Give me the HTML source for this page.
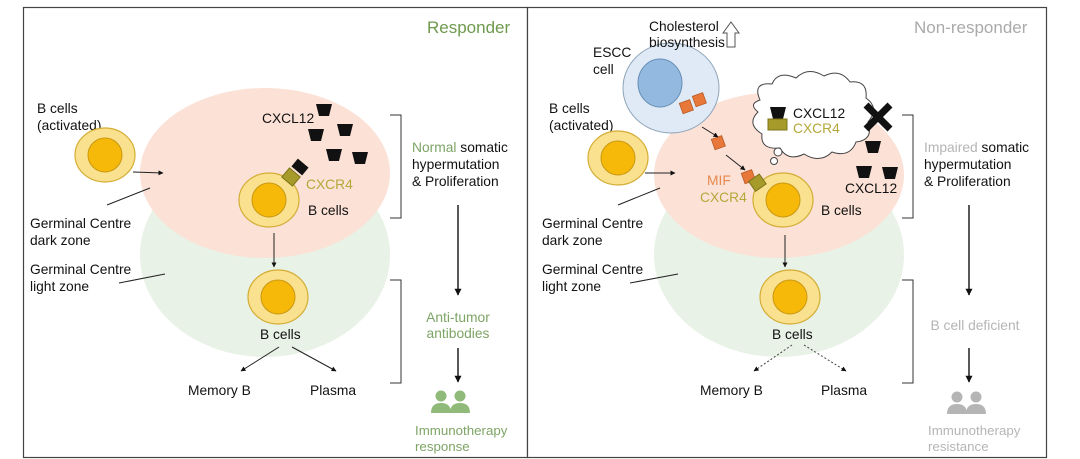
<!DOCTYPE html>
<html><head><meta charset="utf-8"><style>
html,body{margin:0;padding:0;background:#fff;}
svg{display:block;font-family:"Liberation Sans",sans-serif;}
</style></head><body>
<svg width="1080" height="459" viewBox="0 0 1080 459" xmlns="http://www.w3.org/2000/svg">
<defs>
<marker id="a" viewBox="0 0 10 10" refX="9" refY="5" markerWidth="5" markerHeight="5" orient="auto"><path d="M0,0L10,5L0,10z" fill="#111"/></marker>
<g id="cell"><ellipse rx="30" ry="27" fill="#f9e18f" stroke="#d4ad35" stroke-width="1.2"/><circle r="17" fill="#f6b90a" stroke="#c99812" stroke-width="1"/></g>
<path id="tz" d="M-8,-6L8,-6L5,6L-5,6z" fill="#111"/>
<g id="ppl"><circle cx="-9" cy="-8" r="5.5"/><circle cx="10" cy="-8" r="5.5"/><path d="M-19,9Q-19,-1 -9,-1Q1,-1 1,9z"/><path d="M0,9Q0,-1 10,-1Q20,-1 20,9z"/></g>
</defs>
<rect x="23.5" y="7.5" width="504" height="450" fill="#fff" stroke="#444" stroke-width="1.2"/>
<rect x="527.5" y="7.5" width="519" height="450" fill="#fff" stroke="#444" stroke-width="1.2"/>

<!-- LEFT -->
<text x="427" y="33" font-size="17" fill="#6e9a4e">Responder</text>
<ellipse cx="265" cy="255" rx="125" ry="102" fill="#e9f2e6"/>
<ellipse cx="265" cy="173" rx="125" ry="85" fill="#fbe1d6"/>
<g font-size="13.8" fill="#111">
<text x="37" y="113">B cells</text><text x="37" y="130">(activated)</text>
<text x="30" y="228">Germinal Centre</text><text x="30" y="245">dark zone</text>
<text x="30" y="274">Germinal Centre</text><text x="30" y="291">light zone</text>
<text x="262" y="123">CXCL12</text>
<text x="308" y="215">B cells</text>
<text x="260" y="339">B cells</text>
<text x="188" y="395">Memory B</text><text x="310" y="395">Plasma</text>
<text x="412" y="152"><tspan fill="#7ea466">Normal</tspan> somatic</text>
<text x="412" y="169">hypermutation</text><text x="412" y="186">&amp; Proliferation</text>
</g>
<use href="#cell" x="105" y="155"/>
<line x1="133" y1="172" x2="163" y2="173" stroke="#222" marker-end="url(#a)"/>
<line x1="107" y1="205" x2="150" y2="188" stroke="#222"/>
<line x1="119" y1="283" x2="165" y2="274" stroke="#222"/>
<use href="#tz" x="324" y="110"/><use href="#tz" x="316" y="135"/><use href="#tz" x="345" y="130"/><use href="#tz" x="334" y="155"/><use href="#tz" x="360" y="158"/>
<use href="#cell" x="269" y="200"/>
<rect x="284" y="171" width="14" height="12" fill="#a59a2a" stroke="#7d7418" transform="rotate(40 291 177)"/>
<rect x="293" y="162" width="14" height="10" fill="#111" transform="rotate(40 300 167)"/>
<text x="306" y="189" font-size="13.8" fill="#b5a83a">CXCR4</text>
<line x1="274" y1="233" x2="274" y2="267" stroke="#222" marker-end="url(#a)"/>
<use href="#cell" x="278" y="297"/>
<line x1="279" y1="347" x2="241" y2="371" stroke="#222" marker-end="url(#a)"/>
<line x1="292" y1="347" x2="336" y2="371" stroke="#222" marker-end="url(#a)"/>
<path d="M390,115H401V218H390M390,280H401V383H390" fill="none" stroke="#333"/>
<line x1="458" y1="205" x2="458" y2="295" stroke="#111" stroke-width="1.4" marker-end="url(#a)"/>
<g font-size="13.8" fill="#7ea466" text-anchor="middle"><text x="458" y="322">Anti-tumor</text><text x="458" y="338">antibodies</text></g>
<line x1="458" y1="348" x2="458" y2="382" stroke="#111" stroke-width="1.4" marker-end="url(#a)"/>
<use href="#ppl" x="450" y="404" fill="#8fba7a"/>
<g font-size="13.3" fill="#7ea466"><text x="415" y="435">Immunotherapy</text><text x="415" y="451">response</text></g>

<!-- RIGHT -->
<text x="914" y="33" font-size="17" fill="#aaa">Non-responder</text>
<ellipse cx="779" cy="255" rx="125" ry="102" fill="#e9f2e6"/>
<ellipse cx="779" cy="175" rx="125" ry="83" fill="#fbe1d6"/>
<ellipse cx="671" cy="88" rx="48" ry="45" fill="#dfeaf6" stroke="#8da3b8"/>
<ellipse cx="660" cy="83" rx="22" ry="24" fill="#93b9e0" stroke="#6a8fb5"/>
<g font-size="13.8" fill="#111">
<text x="649" y="31">Cholesterol</text><text x="649" y="47">biosynthesis</text>
<text x="593" y="57">ESCC</text><text x="593" y="74">cell</text>
<text x="549" y="113">B cells</text><text x="549" y="130">(activated)</text>
<text x="542" y="228">Germinal Centre</text><text x="542" y="245">dark zone</text>
<text x="542" y="274">Germinal Centre</text><text x="542" y="291">light zone</text>
<text x="821" y="215">B cells</text>
<text x="772" y="339">B cells</text>
<text x="700" y="395">Memory B</text><text x="821" y="395">Plasma</text>
<text x="845" y="193">CXCL12</text>
<text x="924" y="152"><tspan fill="#b5b5b5">Impaired</tspan> somatic</text>
<text x="924" y="169">hypermutation</text><text x="924" y="186">&amp; Proliferation</text>
</g>
<path d="M727,47V33H723L731,22L739,33H735V47z" fill="#fff" stroke="#555"/>
<g fill="#e8773a" stroke="#b85a25" stroke-width="0.8">
<rect x="681" y="101" width="11" height="11" transform="rotate(-20 687 107)"/>
<rect x="694" y="94" width="11" height="11" transform="rotate(-20 700 100)"/>
<rect x="713" y="137" width="11" height="11" transform="rotate(-20 719 143)"/>
<rect x="743" y="171" width="11" height="11" transform="rotate(-20 749 177)"/>
</g>
<line x1="702" y1="127" x2="718" y2="137" stroke="#222" marker-end="url(#a)"/>
<line x1="726" y1="155" x2="745" y2="170" stroke="#222" marker-end="url(#a)"/>
<use href="#cell" x="618" y="158"/>
<line x1="645" y1="173" x2="675" y2="173" stroke="#222" marker-end="url(#a)"/>
<line x1="618" y1="205" x2="660" y2="188" stroke="#222"/>
<line x1="630" y1="283" x2="678" y2="274" stroke="#222"/>
<path d="M760,100 Q752,82 772,84 Q778,70 796,78 Q808,66 824,76 Q840,68 850,82 Q868,80 866,98 Q880,108 868,122 Q874,140 856,142 Q850,158 832,152 Q820,164 804,154 Q788,162 780,148 Q760,150 762,134 Q746,124 758,112 Q748,104 760,100z" fill="#fff" stroke="#444"/>
<circle cx="778" cy="152" r="4" fill="#fff" stroke="#444"/><circle cx="774" cy="161" r="3.5" fill="#fff" stroke="#444"/>
<use href="#tz" x="778" y="113"/>
<rect x="768" y="119" width="19" height="11" fill="#a59a2a" stroke="#7d7418"/>
<text x="793" y="118" font-size="13.8" fill="#111">CXCL12</text>
<text x="793" y="133" font-size="13.8" fill="#b5a83a">CXCR4</text>
<path d="M866,105L890,129M890,105L866,129" stroke="#111" stroke-width="7"/>
<use href="#tz" x="873" y="147"/><use href="#tz" x="864" y="172"/><use href="#tz" x="890" y="173"/>
<text x="707" y="185" font-size="13.8" fill="#e8894f">MIF</text>
<text x="700" y="202" font-size="13.8" fill="#b5a83a">CXCR4</text>
<use href="#cell" x="783" y="200"/>
<rect x="751" y="177" width="13" height="12" fill="#a59a2a" stroke="#7d7418" transform="rotate(-35 757 183)"/>
<line x1="785" y1="235" x2="785" y2="267" stroke="#222" marker-end="url(#a)"/>
<use href="#cell" x="790" y="297"/>
<line x1="792" y1="345" x2="754" y2="371" stroke="#444" stroke-dasharray="2,2" marker-end="url(#a)"/>
<line x1="804" y1="345" x2="846" y2="371" stroke="#444" stroke-dasharray="2,2" marker-end="url(#a)"/>
<path d="M902,115H913V218H902M902,280H913V383H902" fill="none" stroke="#333"/>
<line x1="969" y1="205" x2="969" y2="295" stroke="#111" stroke-width="1.4" marker-end="url(#a)"/>
<text x="975" y="330" font-size="13.8" fill="#b5b5b5" text-anchor="middle">B cell deficient</text>
<line x1="969" y1="348" x2="969" y2="382" stroke="#111" stroke-width="1.4" marker-end="url(#a)"/>
<use href="#ppl" x="966" y="405" fill="#b5b5b5"/>
<g font-size="13.3" fill="#b5b5b5"><text x="928" y="435">Immunotherapy</text><text x="928" y="451">resistance</text></g>
</svg>
</body></html>
